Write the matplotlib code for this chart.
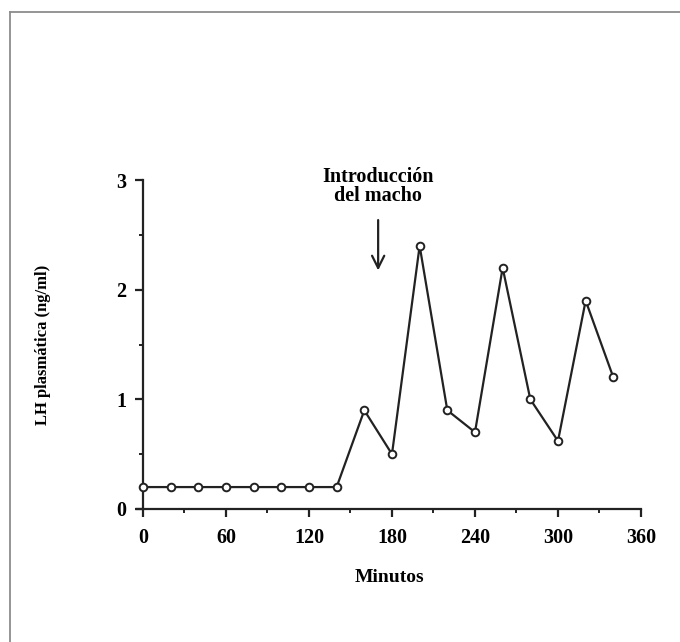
import matplotlib
matplotlib.use("Agg")
import matplotlib.pyplot as plt
from matplotlib.lines import Line2D
from matplotlib.ticker import MultipleLocator

# LH plasmática cada 20 min
minutos = [0, 20, 40, 60, 80, 100, 120, 140, 160, 180,
           200, 220, 240, 260, 280, 300, 320, 340]
lh = [0.2, 0.2, 0.2, 0.2, 0.2, 0.2, 0.2, 0.2, 0.9, 0.5,
      2.4, 0.9, 0.7, 2.2, 1.0, 0.62, 1.9, 1.2]

x_ticks = [0, 60, 120, 180, 240, 300, 360]
y_ticks = [0, 1, 2, 3]
arrow_min = 170
note = "Introducción\ndel macho"

plt.rcParams["font.family"] = ["Liberation Serif", "DejaVu Serif"]
plt.rcParams["font.weight"] = "bold"

fig = plt.figure(figsize=(6.8, 6.42), dpi=100)
W, H = 680, 642
x0, x1 = 137, 641
y0, y1 = 509, 180
ax = fig.add_axes([x0 / W, 1 - y0 / H, (x1 - x0) / W, (y0 - y1) / H])

ax.plot(minutos, lh, color="#222222", lw=1.6, marker="o", ms=5.5,
        mfc="white", mec="#222222", mew=1.4, clip_on=False, zorder=3)

ax.set_xlim(-4.3, 360)
ax.set_ylim(0, 3)
ax.spines["left"].set_position(("data", 0))
ax.spines["top"].set_visible(False)
ax.spines["right"].set_visible(False)
for s in ("left", "bottom"):
    ax.spines[s].set_linewidth(1.6)
    ax.spines[s].set_color("#222222")

ax.set_xticks(x_ticks)
ax.set_yticks(y_ticks)
ax.xaxis.set_minor_locator(MultipleLocator(30))
ax.yaxis.set_minor_locator(MultipleLocator(0.5))
ax.tick_params(which="major", length=6, width=1.6, color="#222222",
               labelsize=14.5, pad=6)
ax.tick_params(axis="x", which="major", pad=8)
ax.tick_params(which="minor", length=3, width=1.4, color="#222222")
for lbl in ax.get_xticklabels() + ax.get_yticklabels():
    lbl.set_fontweight("bold")

ax.set_xlabel("Minutos", fontsize=14, fontweight="bold", labelpad=15)
ax.set_ylabel("LH plasmática (ng/ml)", fontsize=12, fontweight="bold")
ax.yaxis.set_label_coords(-0.17, 0.5)

ax.annotate("", xy=(arrow_min, 2.15), xytext=(arrow_min, 2.66),
            arrowprops=dict(arrowstyle="->", lw=1.6, color="#222222",
                            mutation_scale=22))
ax.text(arrow_min, 2.94, note, ha="center", va="center", fontsize=14.5,
        fontweight="bold", linespacing=0.95)

# marco del escaneo (solo arriba e izquierda)
fig.add_artist(Line2D([10 / W, 10 / W], [0, 1 - 12 / H], color="#8c8c8c", lw=1.3))
fig.add_artist(Line2D([10 / W, 1], [1 - 12 / H, 1 - 12 / H], color="#8c8c8c", lw=1.3))

fig.savefig("out.png", dpi=100)
